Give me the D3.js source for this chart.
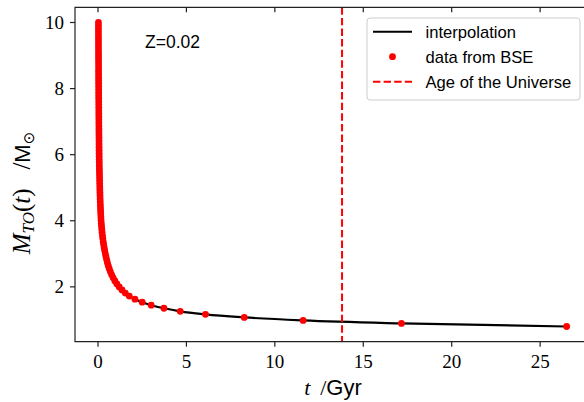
<!DOCTYPE html>
<html>
<head>
<meta charset="utf-8">
<script src="https://cdn.jsdelivr.net/npm/d3@7"></script>
<style>
  body { margin: 0; background: #fff; }
  svg { display: block; }
</style>
</head>
<body>
<div id="chart"></div>
<script>

// turn-off mass (Msun) of the BSE grid
var masses = [0.8, 0.892, 0.984, 1.076, 1.168, 1.26, 1.352, 1.444, 1.536, 1.628, 1.72, 1.812, 1.904, 1.996, 2.088, 2.18, 2.272, 2.364, 2.456, 2.548,
    2.64, 2.732, 2.824, 2.916, 3.008, 3.1, 3.192, 3.284, 3.376, 3.468, 3.56, 3.652, 3.744, 3.836, 3.928, 4.02, 4.112, 4.204, 4.296, 4.388,
    4.48, 4.572, 4.664, 4.756, 4.848, 4.94, 5.032, 5.124, 5.216, 5.308, 5.4, 5.492, 5.584, 5.676, 5.768, 5.86, 5.952, 6.044, 6.136, 6.228,
    6.32, 6.412, 6.504, 6.596, 6.688, 6.78, 6.872, 6.964, 7.056, 7.148, 7.24, 7.332, 7.424, 7.516, 7.608, 7.7, 7.792, 7.884, 7.976, 8.068,
    8.16, 8.252, 8.344, 8.436, 8.528, 8.62, 8.712, 8.804, 8.896, 8.988, 9.08, 9.172, 9.264, 9.356, 9.448, 9.54, 9.632, 9.724, 9.816, 9.908, 10.0];

// turn-off time (Gyr) for each mass above
var times = [26.5, 17.16, 11.6, 8.27, 6.08, 4.65, 3.73, 3.01, 2.5, 2.09, 1.77, 1.545, 1.359, 1.202, 1.069, 0.956, 0.858, 0.774, 0.701, 0.637,
    0.581, 0.532, 0.488, 0.449, 0.414, 0.378, 0.3465, 0.318, 0.293, 0.270, 0.250, 0.231, 0.215, 0.200, 0.186, 0.173, 0.1639, 0.1554, 0.1475, 0.1402,
    0.1334, 0.1270, 0.1211, 0.1156, 0.1104, 0.1055, 0.1009, 0.0967, 0.0926, 0.0888, 0.0852, 0.0818, 0.0786, 0.0756, 0.0727, 0.0700, 0.0675, 0.0650, 0.0632, 0.0614,
    0.0597, 0.0581, 0.0565, 0.0550, 0.0536, 0.0522, 0.0509, 0.0496, 0.0484, 0.0472, 0.0461, 0.0450, 0.0440, 0.0430, 0.0420, 0.0410, 0.0401, 0.0392, 0.0384, 0.0375,
    0.0367, 0.0360, 0.0352, 0.0345, 0.0338, 0.0331, 0.0324, 0.0318, 0.0312, 0.0306, 0.0300, 0.0294, 0.0289, 0.0283, 0.0278, 0.0273, 0.0268, 0.0263, 0.0259, 0.0254, 0.0250];

var ageUniverse = 13.8;
var xTicks = [0, 5, 10, 15, 20, 25];
var yTicks = [2, 4, 6, 8, 10];
var legendLabels = ["interpolation", "data from BSE", "Age of the Universe"];
var metallicity = "Z=0.02";

var data = masses.map(function (m, i) { return { m: m, t: times[i] }; });
var sorted = data.slice().sort(function (a, b) { return a.t - b.t; });

// plot box (right spine falls just outside the picture)
var W = 584, H = 402;
var pLeft = 75, pTop = 7.3, pRight = 590, pBottom = 341.7;

var svg = d3.select("#chart")
    .append("svg")
    .attr("width", W)
    .attr("height", H);

var x = d3.scaleLinear().domain([-1.30, 27.82]).range([pLeft, pRight]);
var y = d3.scaleLinear().domain([0.34, 10.46]).range([pBottom, pTop]);

var serif = "'Liberation Serif', 'DejaVu Serif', serif";
var sans = "'Liberation Sans', Arial, sans-serif";

// interpolation line
var line = d3.line()
    .x(function (d) { return x(d.t); })
    .y(function (d) { return y(d.m); })
    .curve(d3.curveMonotoneX);

svg.append("path")
    .datum(sorted)
    .attr("d", line)
    .attr("fill", "none")
    .attr("stroke", "black")
    .attr("stroke-width", 2.2);

// BSE points
svg.selectAll("circle.pt")
    .data(data)
    .enter()
    .append("circle")
    .attr("class", "pt")
    .attr("cx", function (d) { return x(d.t); })
    .attr("cy", function (d) { return y(d.m); })
    .attr("r", 3.4)
    .attr("fill", "red");

// age of the universe
svg.append("line")
    .attr("x1", x(ageUniverse)).attr("x2", x(ageUniverse))
    .attr("y1", pTop).attr("y2", pBottom)
    .attr("stroke", "red")
    .attr("stroke-width", 2)
    .attr("stroke-dasharray", "7.4,3.2");

// spines
svg.append("path")
    .attr("d", "M" + pRight + "," + pTop + "H" + pLeft + "V" + pBottom + "H" + pRight)
    .attr("fill", "none")
    .attr("stroke", "#222")
    .attr("stroke-width", 1.2);

// x ticks: outside at bottom, inside at top
var xt = svg.append("g");
xTicks.forEach(function (v) {
    xt.append("line").attr("x1", x(v)).attr("x2", x(v)).attr("y1", pBottom).attr("y2", pBottom + 5)
        .attr("stroke", "#222").attr("stroke-width", 1.2);
    xt.append("line").attr("x1", x(v)).attr("x2", x(v)).attr("y1", pTop).attr("y2", pTop + 5)
        .attr("stroke", "#222").attr("stroke-width", 1.2);
    xt.append("text").attr("x", x(v)).attr("y", pBottom + 26)
        .attr("text-anchor", "middle")
        .style("font-family", serif).style("font-size", "19px")
        .text(v);
});

var yt = svg.append("g");
yTicks.forEach(function (v) {
    yt.append("line").attr("x1", pLeft - 5).attr("x2", pLeft).attr("y1", y(v)).attr("y2", y(v))
        .attr("stroke", "#222").attr("stroke-width", 1.2);
    yt.append("text").attr("x", pLeft - 11).attr("y", y(v) + 6.5)
        .attr("text-anchor", "end")
        .style("font-family", serif).style("font-size", "19px")
        .text(v);
});

// axis labels
var xl = svg.append("text")
    .attr("x", 333).attr("y", 395)
    .attr("text-anchor", "middle")
    .style("font-size", "22px");
xl.append("tspan").style("font-family", serif).style("font-style", "italic").text("t");
xl.append("tspan").style("font-family", serif).text("\u2009 /");
xl.append("tspan").style("font-family", sans).text("Gyr");

var yl = svg.append("text")
    .attr("transform", "translate(30,193) rotate(-90)")
    .attr("text-anchor", "middle")
    .style("font-size", "25px");
yl.append("tspan").style("font-family", serif).style("font-style", "italic").text("M");
yl.append("tspan").style("font-family", serif).style("font-style", "italic").style("font-size", "17px").attr("dy", 4).text("TO");
yl.append("tspan").style("font-family", serif).attr("dy", -4).text("(");
yl.append("tspan").style("font-family", serif).style("font-style", "italic").text("t");
yl.append("tspan").style("font-family", serif).text(")\u2002 /");
yl.append("tspan").style("font-family", sans).style("font-size", "22px").text("M");
yl.append("tspan").style("font-family", "'DejaVu Sans', sans-serif").style("font-size", "15px").attr("dy", 4).text("\u2299");

// metallicity label
svg.append("text")
    .attr("x", 145).attr("y", 48)
    .style("font-family", sans).style("font-size", "17.5px")
    .text(metallicity);

// legend
var lg = svg.append("g");
lg.append("rect")
    .attr("x", 367).attr("y", 18).attr("width", 213).attr("height", 82)
    .attr("rx", 3)
    .attr("fill", "white").attr("fill-opacity", 0.8)
    .attr("stroke", "#cccccc").attr("stroke-width", 1);

var rowY = [31.7, 56.7, 81.7];
lg.append("line").attr("x1", 373).attr("x2", 412).attr("y1", rowY[0]).attr("y2", rowY[0])
    .attr("stroke", "black").attr("stroke-width", 2);
lg.append("circle").attr("cx", 392.5).attr("cy", rowY[1]).attr("r", 3.4).attr("fill", "red");
lg.append("line").attr("x1", 373).attr("x2", 412).attr("y1", rowY[2]).attr("y2", rowY[2])
    .attr("stroke", "red").attr("stroke-width", 2).attr("stroke-dasharray", "7.4,3.2");

legendLabels.forEach(function (s, i) {
    lg.append("text")
        .attr("x", 425.5).attr("y", rowY[i] + 6)
        .style("font-family", sans).style("font-size", "16.6px")
        .text(s);
});

</script>
</body>
</html>
